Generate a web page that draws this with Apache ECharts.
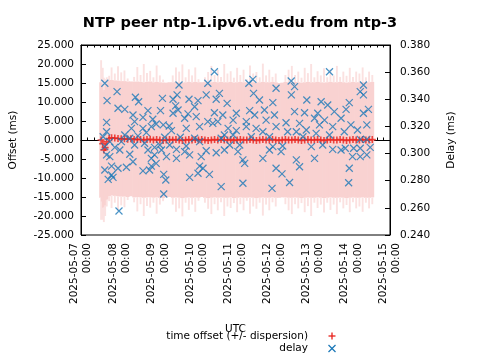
<!DOCTYPE html>
<html><head><meta charset="utf-8">
<script src="https://cdn.jsdelivr.net/npm/echarts@6/dist/echarts.min.js"></script>
<style>html,body{margin:0;padding:0;background:#fff}#c{width:480px;height:360px}</style>
</head><body><div id="c"></div>
<script>
// ---- data (hours since 2025-05-07 00:00 UTC) ----
const startDay = '2025-05-07';
const endDay = '2025-05-15';
const offsetHours = [12.5,13.5,14.2,15,16,17.5,19,21,23,25,27,29,31,33,35,37,39,41,43,45,47,49,51,53,55,57,59,61,63,65,67,69,71,73,75,77,79,81,83,85,87,89,91,93,95,97,99,101,103,105,107,109,111,113,115,117,119,121,123,125,127,129,131,133,135,137,139,141,143,145,147,149,151,153,155,157,159,161,163,165,167,169,171,173,175,177,179,181];
const offsetMs = [0.0,-1.0,-2.6,-2.0,-0.5,0.4,0.6,0.5,0.4,0.3,0.3,0.2,0.3,0.1,0.2,0.1,0.0,0.1,0.2,0.0,0.1,0.0,-0.1,0.0,0.1,0.0,0.1,0.0,-0.1,0.0,0.1,0.0,0.1,0.0,0.1,0.0,-0.1,0.0,0.1,0.0,0.1,0.0,0.0,0.1,-0.1,0.0,0.1,0.0,0.0,0.1,0.0,-0.1,0.0,0.1,0.0,0.0,0.1,0.0,-0.1,0.0,0.1,0.0,0.0,0.1,0.0,-0.1,0.0,0.1,0.0,0.0,0.1,0.0,-0.1,0.0,0.1,0.0,0.0,0.1,0.0,-0.1,0.0,0.1,0.0,0.0,0.1,0.0,0.0,0.1];
const dispersionMs = [21,20,19,18,17,16.5,18.5,17,19,17.5,18,16,15.1,16.5,19,17,20,17.5,18,16.5,19.5,17,16,15.1,15.1,17,19,18,20,16.5,18.5,17,19,16,15.1,16.5,18,19.5,17,18.5,16.5,20,17.5,18,16.5,19,17,18.5,16,19.5,17.5,18,16.5,20,17,18.5,16.5,17.5,15.1,15.1,17,18.5,19.5,17,18,16.5,19,17.5,20,16.5,18,17,19,16.5,18.5,17,19.5,16.5,18,17,19,16.5,18,17.5,19,16.5,18,17];
const delayHours = [14.8,22.4,16.2,33.8,35.8,23.0,27.2,32.3,41.6,38.5,33.3,44.6,15.9,43.7,46.7,31.3,38.5,40.6,15.9,27.2,13.8,30.3,35.4,17.9,25.1,14.8,21.0,24.1,33.3,39.5,41.6,45.7,30.3,17.9,15.9,43.7,45.7,32.3,28.2,19.0,23.0,14.8,38.5,43.7,42.6,46.7,19.0,16.9,19.9,23.6,
82.9,78.8,60.9,86.0,77.8,50.6,57.2,59.7,67.1,72.7,84.0,58.8,60.3,70.6,49.4,57.2,66.5,82.9,88.1,64.4,71.6,78.8,85.0,51.1,54.8,65.4,56.2,73.7,81.9,89.1,52.0,61.7,70.6,87.1,49.0,55.1,65.4,73.7,50.0,59.3,64.4,77.8,84.0,89.1,53.1,59.3,67.5,74.7,73.7,75.8,72.7,79.8,67.5,51.4,52.7,87.1,51.4,
106.8,104.3,121.2,107.2,110.9,119.2,90.8,96.5,104.8,107.9,114.0,120.2,94.5,102.7,115.0,127.4,91.4,96.5,108.8,113.0,121.2,128.4,102.7,94.5,105.8,117.1,92.4,98.6,119.2,125.3,97.5,100.6,113.0,117.1,124.3,121.2,124.9,101.7,100.6,118.7,129.6,
154.4,130.6,132.7,130.7,140.3,149.2,153.3,166.7,132.7,138.9,147.1,157.4,164.7,135.8,145.1,151.3,161.6,167.7,133.8,140.0,148.2,156.4,163.6,171.8,137.9,146.1,154.4,143.1,150.2,156.4,161.6,133.8,145.1,135.8,168.7,166.7,166.3,
175.5,173.5,175.5,178.6,175.5,177.6,173.5,177.6,164.2,169.4,173.5,179.7,177.6,173.5];
const delayMs = [0.3518,0.3456,0.3390,0.3415,0.3382,0.3334,0.3326,0.3284,0.3316,0.3267,0.3235,0.3253,0.3230,0.3198,0.3218,0.3186,0.3186,0.3154,0.3161,0.3137,0.3124,0.3113,0.3130,0.3088,0.3088,0.3051,0.3046,0.3026,0.3063,0.3076,0.3026,0.3046,0.2995,0.2977,0.2990,0.2965,0.2990,0.2940,0.2899,0.2908,0.2892,0.2879,0.2872,0.2908,0.2879,0.2928,0.2842,0.2810,0.2825,0.2577,
0.3603,0.3518,0.3505,0.3444,0.3432,0.3407,0.3400,0.3432,0.3400,0.3390,0.3400,0.3351,0.3321,0.3345,0.3316,0.3297,0.3292,0.3301,0.3284,0.3260,0.3272,0.3235,0.3235,0.3211,0.3203,0.3186,0.3169,0.3198,0.3223,0.3137,0.3120,0.3120,0.3113,0.3113,0.3063,0.3063,0.3056,0.3088,0.3026,0.3031,0.3014,0.3021,0.3006,0.3026,0.2977,0.2965,0.2990,0.2977,0.2908,0.2892,0.2855,0.2847,0.2825,0.2847,0.2805,0.2756,0.2702,
0.3547,0.3518,0.3481,0.3444,0.3395,0.3375,0.3370,0.3297,0.3316,0.3284,0.3321,0.3284,0.3247,0.3235,0.3247,0.3227,0.3186,0.3169,0.3186,0.3161,0.3198,0.3161,0.3198,0.3137,0.3124,0.3124,0.3063,0.3063,0.3051,0.3056,0.3014,0.2953,0.2965,0.3026,0.3014,0.2892,0.2850,0.2928,0.2781,0.2744,0.2787,
0.3603,0.3535,0.3493,0.3432,0.3395,0.3382,0.3358,0.3375,0.3309,0.3301,0.3297,0.3309,0.3326,0.3223,0.3260,0.3247,0.3260,0.3211,0.3161,0.3174,0.3211,0.3198,0.3161,0.3174,0.3124,0.3149,0.3137,0.3051,0.3063,0.3031,0.3026,0.2953,0.2965,0.2903,0.2977,0.2892,0.2785,
0.3505,0.3456,0.3432,0.3326,0.3297,0.3211,0.3105,0.3105,0.3039,0.3039,0.3039,0.3046,0.2990,0.2977];
const offsetTicks = {min:-25, max:25, step:5};
const delayTicks = {min:0.24, max:0.38, step:0.02};
const legendNames = ['time offset (+/- dispersion)', 'delay'];

// ---- build ----
const HOUR = 3600000, DAY = 86400000;
const T0 = Date.parse(startDay + 'T00:00:00Z');
const T1 = Date.parse(endDay + 'T00:00:00Z');
const offsetData = offsetHours.map((h,i)=>[T0+h*HOUR, offsetMs[i]]);
const bandData = offsetHours.map((h,i)=>[T0+h*HOUR, offsetMs[i], dispersionMs[i]]);
const delayData = delayHours.map((h,i)=>[T0+h*HOUR, delayMs[i]]);

const FONT = 'DejaVu Sans';
const pad = n => String(n).padStart(2,'0');
const fmtTime = v => { const d = new Date(v); return d.getUTCFullYear()+'-'+pad(d.getUTCMonth()+1)+'-'+pad(d.getUTCDate())+'\n'+pad(d.getUTCHours())+':'+pad(d.getUTCMinutes()); };
const PLUS = 'path://M5,0L5,10M0,5L10,5';
const CROSS = 'path://M0,0L10,10M10,0L0,10';
const RED = '#e8201a', BLUE = '#1a78b8';

// legend drawn as graphic elements
function legendRow(name, cy, color, kind){
  const tx = 308, ix = 332, r = 3.5;
  const lines = kind === 'plus'
    ? [[ix-r,cy,ix+r,cy],[ix,cy-r,ix,cy+r]]
    : [[ix-r,cy-r,ix+r,cy+r],[ix+r,cy-r,ix-r,cy+r]];
  return [
    {type:'text', x:tx, y:cy, style:{text:name, align:'right', verticalAlign:'middle', font:'10.5px "DejaVu Sans"', fill:'#000'}},
    ...lines.map(l=>({type:'line', shape:{x1:l[0],y1:l[1],x2:l[2],y2:l[3]}, style:{stroke:color, lineWidth:1.3}}))
  ];
}

const chart = echarts.init(document.getElementById('c'), null, {renderer:'canvas'});
const axisCommon = {
  axisLine:{show:true, lineStyle:{color:'#000', width:1}},
  splitLine:{show:false},
};
chart.setOption({
  animation:false,
  textStyle:{fontFamily:FONT, color:'#000'},
  title:{text:'NTP peer ntp-1.ipv6.vt.edu from ntp-3', left:'center', top:11,
    textStyle:{fontFamily:FONT, fontWeight:'bold', fontSize:14.5, color:'#000'}},
  grid:{left:79, right:90, top:45, bottom:125, show:true, borderColor:'#000', borderWidth:1},
  graphic:[...legendRow(legendNames[0], 336, RED, 'plus'), ...legendRow(legendNames[1], 348.5, BLUE, 'cross')],
  xAxis:[
    Object.assign({}, axisCommon, {type:'value', min:T0, max:T1, interval:DAY, position:'bottom',
      name:'UTC', nameLocation:'middle', nameGap:89, nameTextStyle:{fontFamily:FONT, fontSize:10.5, color:'#000'},
      axisTick:{show:true, inside:true, length:5, lineStyle:{color:'#000'}},
      minorTick:{show:true, splitNumber:6, length:2.5, lineStyle:{color:'#000'}},
      axisLabel:{rotate:90, margin:8, fontFamily:FONT, fontSize:10.5, lineHeight:13.5, color:'#000',
        showMinLabel:true, showMaxLabel:true, formatter:fmtTime}}),
    Object.assign({}, axisCommon, {type:'value', min:T0, max:T1, interval:DAY, position:'top',
      axisTick:{show:true, inside:true, length:5, lineStyle:{color:'#000'}},
      minorTick:{show:true, splitNumber:6, length:2.5, lineStyle:{color:'#000'}},
      axisLabel:{show:false}})
  ],
  yAxis:[
    Object.assign({}, axisCommon, {type:'value', min:offsetTicks.min, max:offsetTicks.max, interval:offsetTicks.step, position:'left',
      name:'Offset (ms)', nameLocation:'middle', nameGap:62, nameTextStyle:{fontFamily:FONT, fontSize:10.5, color:'#000'},
      axisTick:{show:true, inside:true, length:5, lineStyle:{color:'#000'}},
      axisLabel:{margin:7, fontFamily:FONT, fontSize:10.5, color:'#000', formatter:v=>v.toFixed(3)}}),
    Object.assign({}, axisCommon, {type:'value', min:delayTicks.min, max:delayTicks.max, interval:delayTicks.step, position:'right',
      name:'Delay (ms)', nameLocation:'middle', nameGap:56, nameRotate:90, nameTextStyle:{fontFamily:FONT, fontSize:10.5, color:'#000'},
      axisTick:{show:true, inside:true, length:5, lineStyle:{color:'#000'}},
      axisLabel:{margin:10, fontFamily:FONT, fontSize:10.5, color:'#000', formatter:v=>v.toFixed(3)}})
  ],
  series:[
    {type:'custom', name:'band', xAxisIndex:0, yAxisIndex:0, z:1, silent:true, clip:true,
      data:bandData,
      renderItem:function(params, api){
        const t = api.value(0), o = api.value(1), d = api.value(2);
        const core = Math.min(d, 15.2);
        const w = api.size([2*HOUR, 0])[0] + 0.6;
        const top = api.coord([t, o+d]), cTop = api.coord([t, o+core]);
        const cBot = api.coord([t, o-core]), bot = api.coord([t, o-d]);
        const x = top[0] - w/2;
        const kids = [
          {type:'rect', shape:{x:x, y:cTop[1], width:w, height:cBot[1]-cTop[1]}, style:{fill:'#f9d2d1'}}
        ];
        if (d > core) {
          kids.push({type:'rect', shape:{x:x+w*0.25, y:top[1], width:w*0.5, height:cTop[1]-top[1]}, style:{fill:'#fbe1e0'}});
          kids.push({type:'rect', shape:{x:x+w*0.25, y:cBot[1], width:w*0.5, height:bot[1]-cBot[1]}, style:{fill:'#fbe1e0'}});
        }
        return {type:'group', children:kids};
      }},
    {type:'scatter', name:legendNames[0], xAxisIndex:0, yAxisIndex:0, z:3, clip:true,
      symbol:PLUS, symbolSize:7, data:offsetData,
      itemStyle:{color:RED, borderColor:RED, borderWidth:1.6}},
    {type:'scatter', name:legendNames[1], xAxisIndex:0, yAxisIndex:1, z:4, clip:true,
      symbol:CROSS, symbolSize:7, data:delayData,
      itemStyle:{color:BLUE, borderColor:BLUE, borderWidth:1.2}}
  ]
});
</script></body></html>
